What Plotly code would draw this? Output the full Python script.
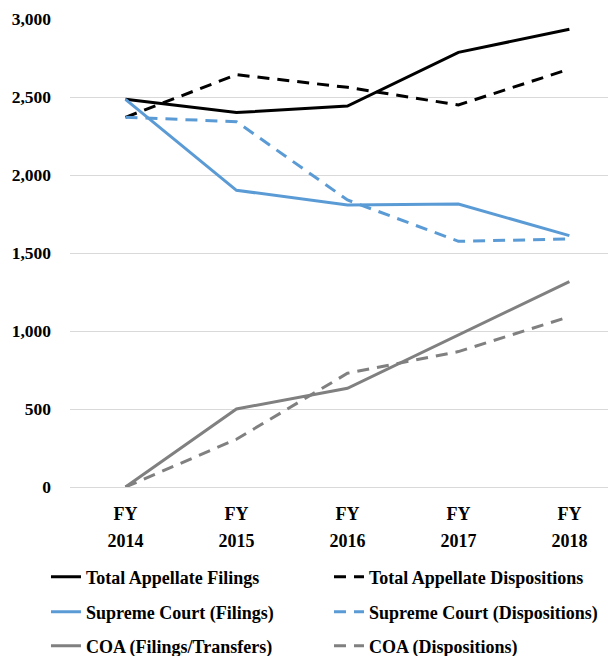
import plotly.graph_objects as go

years = ["2014", "2015", "2016", "2017", "2018"]
total_filings = [2485, 2400, 2442, 2786, 2934]
total_dispositions = [2370, 2643, 2562, 2449, 2679]
sc_filings = [2485, 1902, 1808, 1814, 1611]
sc_dispositions = [2370, 2342, 1840, 1575, 1590]
coa_filings = [0, 500, 633, 974, 1316]
coa_dispositions = [0, 306, 729, 868, 1092]

series = [
    ("Total Appellate Filings", total_filings, "#000000", "solid", "legend"),
    ("Total Appellate Dispositions", total_dispositions, "#000000", "dash", "legend"),
    ("Supreme Court (Filings)", sc_filings, "#5B9BD5", "solid", "legend2"),
    ("Supreme Court (Dispositions)", sc_dispositions, "#5B9BD5", "dash", "legend2"),
    ("COA (Filings/Transfers)", coa_filings, "#808080", "solid", "legend3"),
    ("COA (Dispositions)", coa_dispositions, "#808080", "dash", "legend3"),
]

font_family = "Liberation Serif, Times New Roman, serif"
ticktext = ["<span style='font-size:18px'>FY</span><br><span style='font-size:18px'>%s</span>" % y for y in years]

fig = go.Figure()
for name, vals, color, dash, lg in series:
    fig.add_trace(go.Scatter(
        x=list(range(len(years))), y=vals, name=name, mode="lines", legend=lg,
        line=dict(color=color, width=3, dash="solid" if dash == "solid" else "12px,8px"),
    ))

def legend_row(yc):
    return dict(
        orientation="h", x=-0.044, xanchor="left", y=yc, yanchor="middle",
        entrywidth=238, entrywidthmode="pixels",
        font=dict(family=font_family, size=18, color="#000000", weight="bold"),
        bgcolor="rgba(0,0,0,0)",
    )

# page body adds an 8px offset, so the figure is drawn 8px smaller
fig.update_layout(
    width=608, height=648,
    margin=dict(l=62, r=0, t=11, b=169, autoexpand=False),
    plot_bgcolor="white", paper_bgcolor="white",
    font=dict(family=font_family, color="#000000", size=18),
    showlegend=True,
    legend=legend_row(-0.1923),
    legend2=legend_row(-0.267),
    legend3=legend_row(-0.340),
    xaxis=dict(
        tickmode="array", tickvals=list(range(len(years))), ticktext=ticktext,
        range=[-0.5, 4.42], showgrid=False, zeroline=False, showline=False,
        ticks="", tickfont=dict(family=font_family, size=21, weight="bold"),
        ticklabelstandoff=11,
    ),
    yaxis=dict(
        range=[0, 3000], tickvals=[0, 500, 1000, 1500, 2000, 2500, 3000],
        tickformat=",d", showgrid=True, gridcolor="#D9D9D9", gridwidth=1,
        zeroline=True, zerolinecolor="#D9D9D9", zerolinewidth=1, showline=False,
        ticks="", tickfont=dict(family=font_family, size=17.5, weight="bold"),
        ticklabelstandoff=18,
    ),
)

fig.write_html("out.html")
